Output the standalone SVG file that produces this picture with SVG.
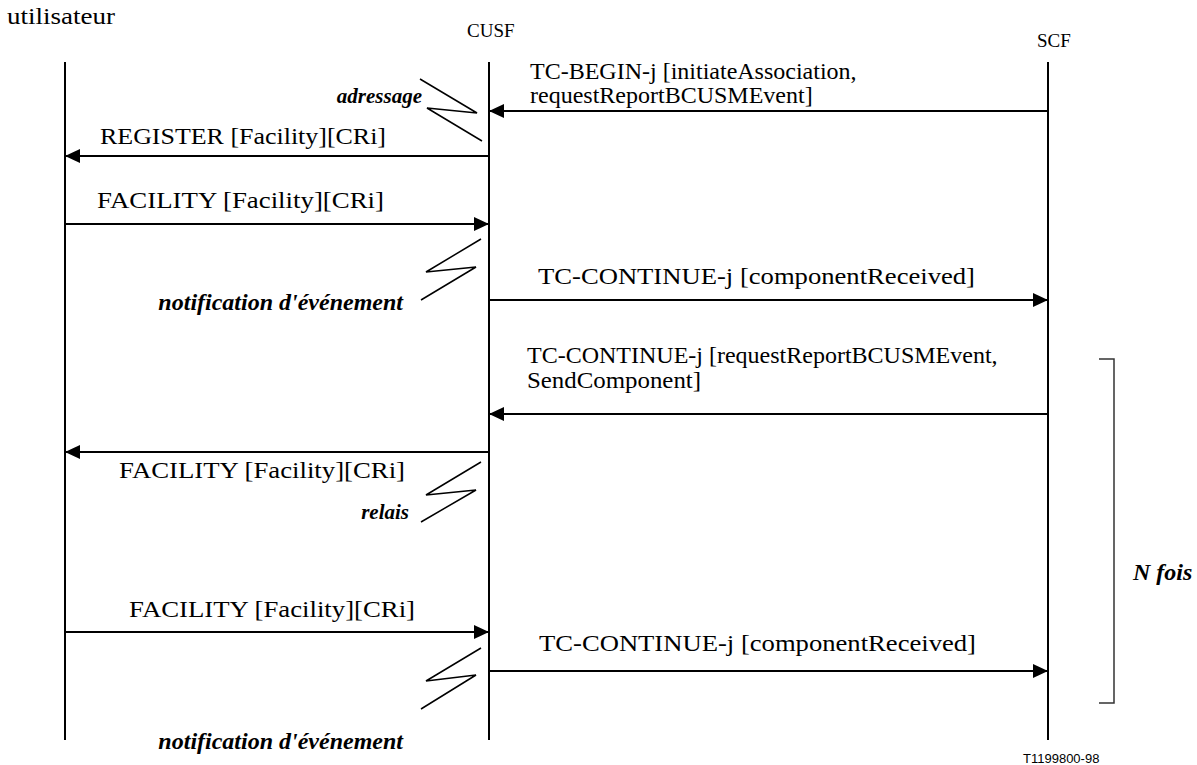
<svg xmlns="http://www.w3.org/2000/svg" width="1197" height="765" viewBox="0 0 1197 765">
  <style>
    .lbl { font-family: "Liberation Serif", "Times New Roman", serif; font-size: 24px; fill: #000; }
    .hdr { font-family: "Liberation Serif", "Times New Roman", serif; font-size: 19px; fill: #000; }
    .em { font-family: "Liberation Serif", "Times New Roman", serif; font-size: 24px; font-weight: bold; font-style: italic; fill: #000; }
    .em.sm { font-size: 21px; }
    .ref { font-family: "Liberation Sans", Arial, sans-serif; font-size: 13px; fill: #000; }
    .life { stroke: #000; stroke-width: 2; fill: none; }
    .msg { stroke: #000; stroke-width: 2; fill: none; marker-end: url(#head); }
    .zz { stroke: #000; stroke-width: 1.5; fill: none; stroke-linejoin: miter; }
    .brk { stroke: #333; stroke-width: 1.5; fill: none; }
  </style>
  <defs>
    <marker id="head" markerUnits="userSpaceOnUse" markerWidth="16" markerHeight="14" refX="15" refY="7" orient="auto">
      <path d="M0,0 L15,7 L0,14 Z" fill="#000"/>
    </marker>
  </defs>
  <rect width="1197" height="765" fill="#fff"/>

  <!-- lifelines -->
  <g id="utilisateur">
    <text class="lbl" x="7" y="24" textLength="108" lengthAdjust="spacingAndGlyphs">utilisateur</text>
    <line class="life" x1="65" y1="62" x2="65" y2="740"/>
  </g>
  <g id="cusf">
    <text class="hdr" x="467" y="37">CUSF</text>
    <line class="life" x1="489" y1="62" x2="489" y2="740"/>
  </g>
  <g id="scf">
    <text class="hdr" x="1037" y="47">SCF</text>
    <line class="life" x1="1048" y1="62" x2="1048" y2="740"/>
  </g>

  <!-- internal processing marks on CUSF -->
  <g id="adressage">
    <polyline class="zz" points="420,79 477,113 427,108 482,141"/>
    <text class="em sm" x="422" y="103" text-anchor="end">adressage</text>
  </g>
  <g id="notification1">
    <polyline class="zz" points="481,239 426,272 476,267 421,300"/>
    <text class="em" x="403" y="310" text-anchor="end">notification d'événement</text>
  </g>
  <g id="relais">
    <polyline class="zz" points="481,462 426,495 476,490 421,522"/>
    <text class="em sm" x="409" y="519" text-anchor="end">relais</text>
  </g>
  <g id="notification2">
    <polyline class="zz" points="481,648 426,681 476,675 421,709"/>
    <text class="em" x="403" y="749" text-anchor="end">notification d'événement</text>
  </g>

  <!-- repetition bracket -->
  <g id="nfois">
    <polyline class="brk" points="1099,359 1114,359 1114,703 1099,703"/>
    <text class="em" x="1133" y="580">N fois</text>
  </g>

  <!-- messages -->
  <g id="connectors">
    <line class="msg" x1="1048" y1="111" x2="489" y2="111"/>
    <line class="msg" x1="489" y1="156" x2="65" y2="156"/>
    <line class="msg" x1="65" y1="224" x2="489" y2="224"/>
    <line class="msg" x1="489" y1="300" x2="1048" y2="300"/>
    <line class="msg" x1="1048" y1="414" x2="489" y2="414"/>
    <line class="msg" x1="489" y1="452" x2="65" y2="452"/>
    <line class="msg" x1="65" y1="632" x2="489" y2="632"/>
    <line class="msg" x1="489" y1="671" x2="1048" y2="671"/>
  </g>

  <g id="labels">
    <text class="lbl" x="530" y="79">TC-BEGIN-j [initiateAssociation,</text>
    <text class="lbl" x="530" y="103">requestReportBCUSMEvent]</text>
    <text class="lbl" x="100" y="144" textLength="286" lengthAdjust="spacingAndGlyphs">REGISTER [Facility][CRi]</text>
    <text class="lbl" x="97" y="208" textLength="287" lengthAdjust="spacingAndGlyphs">FACILITY [Facility][CRi]</text>
    <text class="lbl" x="538" y="284" textLength="437" lengthAdjust="spacingAndGlyphs">TC-CONTINUE-j [componentReceived]</text>
    <text class="lbl" x="527" y="363">TC-CONTINUE-j [requestReportBCUSMEvent,</text>
    <text class="lbl" x="527" y="388" textLength="174" lengthAdjust="spacingAndGlyphs">SendComponent]</text>
    <text class="lbl" x="119" y="478" textLength="286" lengthAdjust="spacingAndGlyphs">FACILITY [Facility][CRi]</text>
    <text class="lbl" x="129" y="617" textLength="286" lengthAdjust="spacingAndGlyphs">FACILITY [Facility][CRi]</text>
    <text class="lbl" x="539" y="651" textLength="437" lengthAdjust="spacingAndGlyphs">TC-CONTINUE-j [componentReceived]</text>
  </g>

  <text class="ref" x="1023" y="763">T1199800-98</text>
</svg>
